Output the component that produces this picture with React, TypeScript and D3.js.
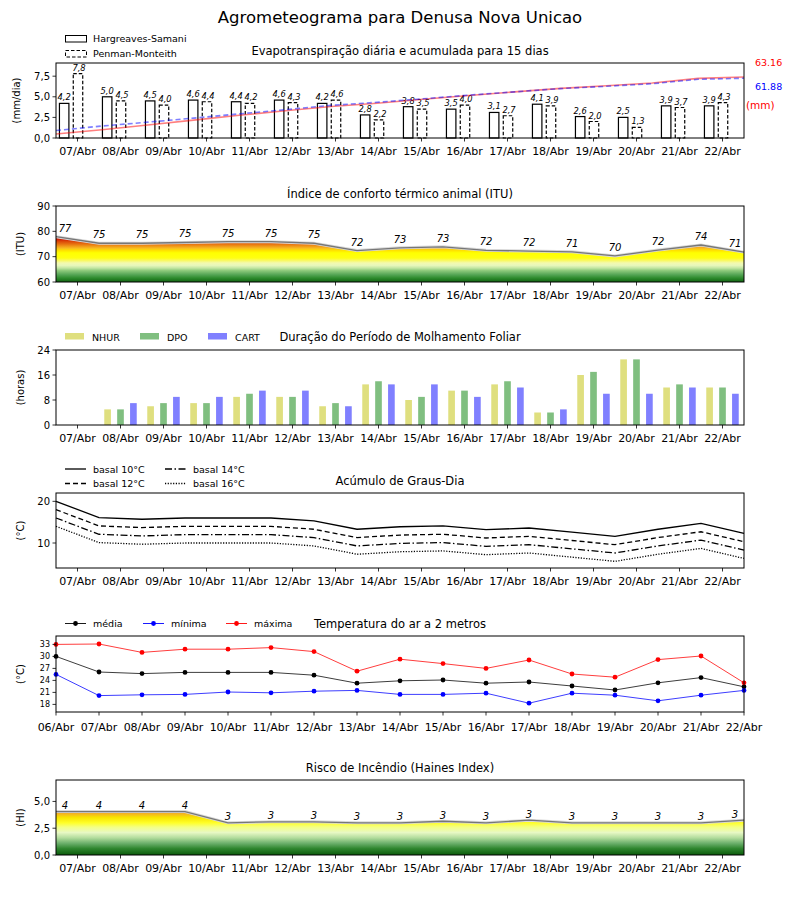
import React from 'react';
import * as d3 from 'd3';

// dias (pontos nas divisas) e dias das barras
const dias = ['06/Abr', '07/Abr', '08/Abr', '09/Abr', '10/Abr', '11/Abr', '12/Abr', '13/Abr', '14/Abr',
  '15/Abr', '16/Abr', '17/Abr', '18/Abr', '19/Abr', '20/Abr', '21/Abr', '22/Abr'];
const diasBarras = dias.slice(1);

// evapotranspiração (mm/dia) e acumulada (mm)
const etHargreaves = [4.2, 5.0, 4.5, 4.6, 4.4, 4.6, 4.2, 2.8, 3.8, 3.5, 3.1, 4.1, 2.6, 2.5, 3.9, 3.9];
const etPenman = [7.8, 4.5, 4.0, 4.4, 4.2, 4.3, 4.6, 2.2, 3.5, 4.0, 2.7, 3.9, 2.0, 1.3, 3.7, 4.3];
const acumHargreaves = [4.2, 8.6, 13.5, 18.5, 23.5, 28.2, 32.6, 36.0, 40.2, 44.0, 47.8, 51.4, 54.1, 56.9, 61.8, 63.16];
const acumPenman = [7.8, 12.4, 16.4, 20.6, 25.0, 29.3, 33.8, 37.0, 40.6, 44.4, 47.8, 51.2, 53.6, 56.2, 60.8, 61.88];

// ITU
const itu = [77.9, 75.3, 75.3, 75.6, 75.9, 75.9, 75.3, 72.4, 73.5, 73.9, 72.5, 72.2, 71.9, 70.3, 72.6, 74.6, 71.8];

// molhamento foliar (horas)
const nhur = [0, 5, 6, 7, 9, 9, 6, 13, 8, 11, 13, 4, 16, 21, 12, 12];
const dpo = [0, 5, 7, 7, 10, 9, 7, 14, 9, 11, 14, 4, 17, 21, 13, 12];
const cart = [0, 7, 9, 9, 11, 11, 6, 13, 13, 9, 12, 5, 10, 10, 12, 10];

// graus-dia
const basal10 = [20.0, 16.1, 15.7, 16.0, 16.0, 16.0, 15.3, 13.3, 13.9, 14.1, 13.2, 13.6, 12.6, 11.6, 13.3, 14.7, 12.3];
const basal12 = [18.0, 14.1, 13.7, 14.0, 14.0, 14.0, 13.3, 11.3, 11.9, 12.1, 11.2, 11.6, 10.6, 9.6, 11.3, 12.7, 10.3];
const basal14 = [16.0, 12.1, 11.7, 12.0, 12.0, 12.0, 11.3, 9.3, 9.9, 10.1, 9.2, 9.6, 8.6, 7.6, 9.3, 10.7, 8.3];
const basal16 = [14.0, 10.1, 9.7, 10.0, 10.0, 10.0, 9.3, 7.3, 7.9, 8.1, 7.2, 7.6, 6.6, 5.6, 7.3, 8.7, 6.3];

// temperatura do ar (°C)
const tMedia = [30.0, 26.1, 25.7, 26.0, 26.0, 26.0, 25.3, 23.3, 23.9, 24.1, 23.3, 23.6, 22.6, 21.6, 23.4, 24.7, 22.4];
const tMinima = [25.5, 20.2, 20.4, 20.5, 21.1, 20.9, 21.3, 21.5, 20.5, 20.5, 20.8, 18.3, 20.8, 20.3, 18.9, 20.3, 21.5];
const tMaxima = [33.0, 33.1, 31.0, 31.8, 31.8, 32.2, 31.2, 26.3, 29.3, 28.2, 27.0, 29.1, 25.6, 24.8, 29.2, 30.1, 23.4];

// Haines
const haines = [4.05, 4.05, 4.05, 4.05, 3.0, 3.1, 3.1, 3.0, 3.0, 3.15, 3.0, 3.25, 3.0, 3.0, 3.0, 3.0, 3.25];

const X0 = 56;
const X1 = 744;
const FONT = 'DejaVu Sans, sans-serif';
const virgula = (v: number) => v.toFixed(1).replace('.', ',');

const coresITU: [number, string][] = [
  [60, '#136313'], [61.5, '#2c8a2c'], [63, '#58a758'], [64.5, '#8dc97b'], [65.5, '#c2e6a2'],
  [66.5, '#e6f7ba'], [67.5, '#f3fab0'], [68.5, '#f9f960'], [69.5, '#ffff10'], [71.5, '#ffff00'],
  [72.5, '#ffe000'], [73.3, '#f8bc20'], [74.2, '#f09418'], [75, '#e67010'], [76, '#dc4808'],
  [77, '#d01800'], [78.5, '#c80000'],
];
const coresHI: [number, string][] = [
  [0, '#0a5a0a'], [0.6, '#2f862f'], [1.1, '#6cb06c'], [1.6, '#b2dc9c'], [2.1, '#e8f8c4'],
  [2.6, '#f4ff84'], [3.0, '#ffff28'], [3.5, '#f8e400'], [4.0, '#f0a030'], [5, '#e06010'], [6, '#d01000'],
];

function Gradiente({ id, y, cores }: { id: string; y: d3.ScaleLinear<number, number>; cores: [number, string][] }) {
  const v0 = cores[0][0];
  const v1 = cores[cores.length - 1][0];
  return (
    <linearGradient id={id} gradientUnits="userSpaceOnUse" x1={0} x2={0} y1={y(v0)} y2={y(v1)}>
      {cores.map(([v, c], i) => (
        <stop key={i} offset={(v - v0) / (v1 - v0)} stopColor={c} />
      ))}
    </linearGradient>
  );
}

function EixoY({ y, ticks, fmt, size = 10, label, lx = 24 }: {
  y: d3.ScaleLinear<number, number>; ticks: number[]; fmt: (v: number) => string; size?: number; label: string; lx?: number;
}) {
  const [b, t] = y.range();
  const mid = (b + t) / 2;
  return (
    <g>
      {ticks.map((v) => (
        <g key={v}>
          <line x1={X0 - 3.5} x2={X0} y1={y(v)} y2={y(v)} stroke="#000" strokeWidth={0.8} />
          <text x={X0 - 6} y={y(v) + size * 0.35} textAnchor="end" fontSize={size}>{fmt(v)}</text>
        </g>
      ))}
      <text transform={`translate(${lx},${mid}) rotate(-90)`} textAnchor="middle" fontSize={10}>{label}</text>
    </g>
  );
}

function EixoXBandas({ x, base }: { x: d3.ScaleBand<string>; base: number }) {
  return (
    <g>
      {diasBarras.map((d) => {
        const cx = (x(d) as number) + x.bandwidth() / 2;
        return (
          <g key={d}>
            <line x1={cx} x2={cx} y1={base} y2={base + 3.5} stroke="#000" strokeWidth={0.8} />
            <text x={cx} y={base + 17} textAnchor="middle" fontSize={11}>{d}</text>
          </g>
        );
      })}
    </g>
  );
}

function Moldura({ top, bottom }: { top: number; bottom: number }) {
  return <rect x={X0} y={top} width={X1 - X0} height={bottom - top} fill="none" stroke="#000" strokeWidth={1} />;
}

export default function App() {
  const xBanda = d3.scaleBand<string>().domain(diasBarras).range([X0, X1]);
  const bw = xBanda.bandwidth();
  const centro = (i: number) => (xBanda(diasBarras[i]) as number) + bw / 2;
  const xDia = d3.scaleLinear().domain([0, dias.length - 1]).range([X0, X1]);
  const xAcum = d3.scaleLinear().domain([0, acumHargreaves.length - 1]).range([X0, X1]);

  // painel 1
  const yEt = d3.scaleLinear().domain([0, 9.1]).range([138, 63]);
  const yAcum = d3.scaleLinear().domain([0, 77.7]).range([138, 63]);
  const linhaAcum = d3.line<number>().x((_, i) => xAcum(i)).y((d) => yAcum(d));
  const wEt = bw * 0.22;

  // painel 2
  const yItu = d3.scaleLinear().domain([60, 90]).range([282, 206]);
  const linhaItu = d3.line<number>().x((_, i) => xDia(i)).y((d) => yItu(d));
  const areaItu = d3.area<number>().x((_, i) => xDia(i)).y0(yItu(60)).y1((d) => yItu(d));

  // painel 3
  const yMol = d3.scaleLinear().domain([0, 24]).range([425, 350]);
  const wMol = bw * 0.155;
  const series = [
    { nome: 'NHUR', dados: nhur, cor: '#dfdf7f', off: -0.3 },
    { nome: 'DPO', dados: dpo, cor: '#80bf80', off: 0 },
    { nome: 'CART', dados: cart, cor: '#8080ff', off: 0.3 },
  ];

  // painel 4
  const yGd = d3.scaleLinear().domain([4, 22]).range([568, 493]);
  const linhaGd = d3.line<number>().x((_, i) => xDia(i)).y((d) => yGd(d));
  const basais = [
    { nome: 'basal 10°C', dados: basal10, dash: undefined as string | undefined },
    { nome: 'basal 12°C', dados: basal12, dash: '5,3' },
    { nome: 'basal 14°C', dados: basal14, dash: '7,2.5,1.5,2.5' },
    { nome: 'basal 16°C', dados: basal16, dash: '1.2,1.5' },
  ];

  // painel 5
  const yT = d3.scaleLinear().domain([16.1, 35.1]).range([712, 636]);
  const linhaT = d3.line<number>().x((_, i) => xDia(i)).y((d) => yT(d));
  const temps = [
    { nome: 'média', dados: tMedia, cor: '#000000' },
    { nome: 'mínima', dados: tMinima, cor: '#0000ff' },
    { nome: 'máxima', dados: tMaxima, cor: '#ff0000' },
  ];

  // painel 6
  const yHi = d3.scaleLinear().domain([0, 7]).range([855, 780]);
  const linhaHi = d3.line<number>().x((_, i) => xDia(i)).y((d) => yHi(d));
  const areaHi = d3.area<number>().x((_, i) => xDia(i)).y0(yHi(0)).y1((d) => yHi(d));

  const rotX = (i: number) => Math.max(65, Math.min(735, xDia(i)));

  return (
    <div style={{ position: 'absolute', left: 0, top: 0 }}>
      <svg width={800} height={900} style={{ display: 'block', background: '#fff' }} fontFamily={FONT}>
        <defs>
          <Gradiente id="gItu" y={yItu} cores={coresITU} />
          <Gradiente id="gHi" y={yHi} cores={coresHI} />
        </defs>

        <text x={400} y={23} textAnchor="middle" fontSize={16.5}>Agrometeograma para Denusa Nova Unicao</text>

        {/* 1. Evapotranspiração */}
        <text x={400} y={55} textAnchor="middle" fontSize={11.5}>Evapotranspiração diária e acumulada para 15 dias</text>
        <rect x={65.5} y={35.5} width={21} height={6.5} fill="#fff" stroke="#000" strokeWidth={1} />
        <text x={93} y={42} fontSize={9.5}>Hargreaves-Samani</text>
        <rect x={65.5} y={50.5} width={21} height={6.5} fill="#fff" stroke="#000" strokeWidth={1} strokeDasharray="3.5,2" />
        <text x={93} y={57} fontSize={9.5}>Penman-Monteith</text>
        {etHargreaves.map((v, i) => {
          const c = centro(i) - bw * 0.31;
          return (
            <g key={'hs' + i}>
              <rect x={c - wEt / 2} y={yEt(v)} width={wEt} height={yEt(0) - yEt(v)} fill="#fff" stroke="#000" strokeWidth={1.2} />
              <text x={c} y={yEt(v) - 3} textAnchor="middle" fontSize={8.3} fontStyle="italic">{virgula(v)}</text>
            </g>
          );
        })}
        {etPenman.map((v, i) => {
          const c = centro(i) + 0.5;
          return (
            <g key={'pm' + i}>
              <rect x={c - wEt / 2} y={yEt(v)} width={wEt} height={yEt(0) - yEt(v)} fill="#fff" stroke="#000" strokeWidth={1.2} strokeDasharray="3.5,2" />
              <text x={c + 1} y={yEt(v) - 3} textAnchor="middle" fontSize={8.3} fontStyle="italic">{virgula(v)}</text>
            </g>
          );
        })}
        <path d={linhaAcum(acumHargreaves) || ''} fill="none" stroke="#ff0000" strokeOpacity={0.5} strokeWidth={1.6} />
        <path d={linhaAcum(acumPenman) || ''} fill="none" stroke="#0000ff" strokeOpacity={0.5} strokeWidth={1.6} strokeDasharray="5,3" />
        <text x={755} y={66} fontSize={9.5} fill="#ff0000">{acumHargreaves[acumHargreaves.length - 1].toFixed(2)}</text>
        <text x={755} y={90} fontSize={9.5} fill="#0000ff">{acumPenman[acumPenman.length - 1].toFixed(2)}</text>
        <text x={746} y={109} fontSize={10.5} fill="#ff0000">(mm)</text>
        <Moldura top={63} bottom={138} />
        <EixoY y={yEt} ticks={[0, 2.5, 5, 7.5]} fmt={virgula} label="(mm/dia)" lx={20} />
        <EixoXBandas x={xBanda} base={138} />

        {/* 2. ITU */}
        <text x={400} y={198} textAnchor="middle" fontSize={11.5}>Índice de conforto térmico animal (ITU)</text>
        <path d={areaItu(itu) || ''} fill="url(#gItu)" />
        <path d={linhaItu(itu) || ''} fill="none" stroke="#d8d8d8" strokeWidth={3} />
        <path d={linhaItu(itu) || ''} fill="none" stroke="#777" strokeWidth={1.3} />
        {itu.map((v, i) => (
          <text key={'itu' + i} x={rotX(i)} y={yItu(v) - 5} textAnchor="middle" fontSize={10} fontStyle="italic">{Math.floor(v)}</text>
        ))}
        <Moldura top={206} bottom={282} />
        <EixoY y={yItu} ticks={[60, 70, 80, 90]} fmt={(v) => String(v)} label="(ITU)" />
        <EixoXBandas x={xBanda} base={282} />

        {/* 3. Molhamento foliar */}
        <text x={400} y={341} textAnchor="middle" fontSize={11.5}>Duração do Período de Molhamento Foliar</text>
        {series.map((s, k) => {
          const lx = [65, 140, 208][k];
          return (
            <g key={s.nome}>
              <rect x={lx} y={333} width={19} height={6.5} fill={s.cor} />
              <text x={lx + 27} y={341} fontSize={9.5}>{s.nome}</text>
            </g>
          );
        })}
        {series.map((s) =>
          s.dados.map((v, i) => {
            const c = centro(i) + s.off * bw;
            return <rect key={s.nome + i} x={c - wMol / 2} y={yMol(v)} width={wMol} height={yMol(0) - yMol(v)} fill={s.cor} />;
          })
        )}
        <Moldura top={350} bottom={425} />
        <EixoY y={yMol} ticks={[0, 8, 16, 24]} fmt={(v) => String(v)} label="(horas)" />
        <EixoXBandas x={xBanda} base={425} />

        {/* 4. Graus-dia */}
        <text x={400} y={485} textAnchor="middle" fontSize={11.5}>Acúmulo de Graus-Dia</text>
        {basais.map((b, k) => {
          const lx = k < 2 ? 65 : 165;
          const ly = k % 2 === 0 ? 469 : 483.5;
          return (
            <g key={'leg' + k}>
              <line x1={lx} x2={lx + 21} y1={ly} y2={ly} stroke="#000" strokeWidth={1.3} strokeDasharray={b.dash} />
              <text x={lx + 28} y={ly + 3.5} fontSize={9.5}>{b.nome}</text>
            </g>
          );
        })}
        {basais.map((b) => (
          <path key={b.nome} d={linhaGd(b.dados) || ''} fill="none" stroke="#000" strokeWidth={1.3} strokeDasharray={b.dash} />
        ))}
        <Moldura top={493} bottom={568} />
        <EixoY y={yGd} ticks={[10, 20]} fmt={(v) => String(v)} label="(°C)" />
        <EixoXBandas x={xBanda} base={568} />

        {/* 5. Temperatura */}
        <text x={400} y={628} textAnchor="middle" fontSize={11.5}>Temperatura do ar a 2 metros</text>
        {temps.map((t, k) => {
          const lx = [65, 143, 226][k];
          return (
            <g key={'lt' + t.nome}>
              <line x1={lx} x2={lx + 21} y1={623.5} y2={623.5} stroke={t.cor} strokeWidth={0.9} />
              <circle cx={lx + 10.5} cy={623.5} r={2.4} fill={t.cor} />
              <text x={lx + 28} y={627} fontSize={9.5}>{t.nome}</text>
            </g>
          );
        })}
        {temps.map((t) => (
          <g key={t.nome}>
            <path d={linhaT(t.dados) || ''} fill="none" stroke={t.cor} strokeWidth={0.9} strokeOpacity={0.85} />
            {t.dados.map((v, i) => (
              <circle key={i} cx={xDia(i)} cy={yT(v)} r={2.4} fill={t.cor} />
            ))}
          </g>
        ))}
        <Moldura top={636} bottom={712} />
        <EixoY y={yT} ticks={[18, 21, 24, 27, 30, 33]} fmt={(v) => String(v)} size={8} label="(°C)" />
        {dias.map((d, i) => (
          <g key={'xt' + d}>
            <line x1={xDia(i)} x2={xDia(i)} y1={712} y2={715.5} stroke="#000" strokeWidth={0.8} />
            <text x={xDia(i)} y={731} textAnchor="middle" fontSize={11}>{d}</text>
          </g>
        ))}

        {/* 6. Haines */}
        <text x={400} y={772} textAnchor="middle" fontSize={11.5}>Risco de Incêndio (Haines Index)</text>
        <path d={areaHi(haines) || ''} fill="url(#gHi)" />
        <path d={linhaHi(haines) || ''} fill="none" stroke="#d8d8d8" strokeWidth={3} />
        <path d={linhaHi(haines) || ''} fill="none" stroke="#777" strokeWidth={1.3} />
        {haines.map((v, i) => (
          <text key={'hi' + i} x={rotX(i)} y={yHi(v) - 2.5} textAnchor="middle" fontSize={10} fontStyle="italic">{Math.floor(v)}</text>
        ))}
        <Moldura top={780} bottom={855} />
        <EixoY y={yHi} ticks={[0, 2.5, 5]} fmt={virgula} label="(HI)" />
        <EixoXBandas x={xBanda} base={855} />
      </svg>
    </div>
  );
}
